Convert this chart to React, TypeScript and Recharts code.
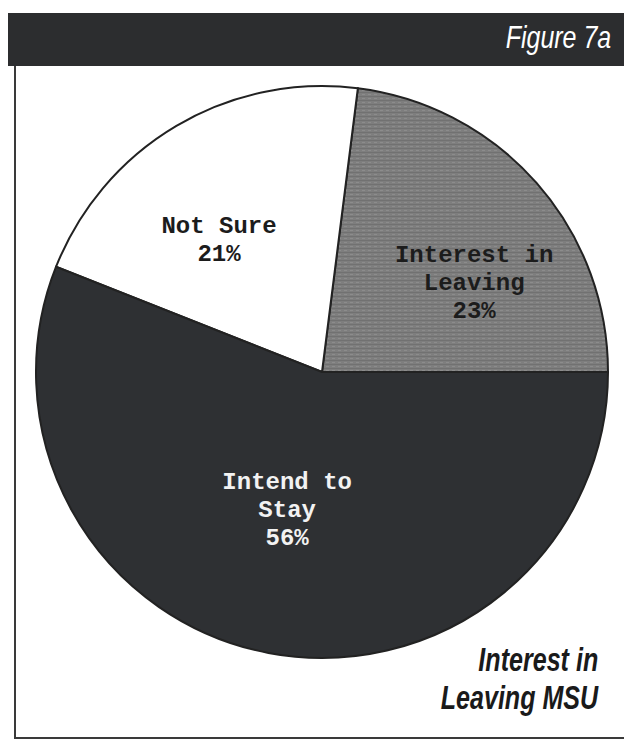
import { PieChart, Pie, Cell } from 'recharts';

const sliceNames = ['Interest in Leaving', 'Not Sure', 'Intend to Stay'];
const sliceValues = [23, 21, 56];
const labelLines = [['Interest in', 'Leaving'], ['Not Sure'], ['Intend to', 'Stay']];

const fills = ['url(#grain)', '#ffffff', '#2e3033'];
const textColors = ['#1c1c1c', '#1c1c1c', '#f2f2f2'];
// radius fraction and angle shift for each label
const labelPlace = [
  [0.615, -11.3],
  [0.585, 7.4],
  [0.5, -3.3],
];

const data = sliceNames.map((name, i) => ({ name, value: sliceValues[i] }));

const RAD = Math.PI / 180;

function renderLabel(props: any) {
  const { cx, cy, midAngle, outerRadius, index } = props;
  const [f, shift] = labelPlace[index];
  const a = (midAngle + shift) * RAD;
  const x = cx + outerRadius * f * Math.cos(a);
  const y = cy - outerRadius * f * Math.sin(a);
  const lines = [...labelLines[index], `${sliceValues[index]}%`];
  const lh = 28;
  const top = y - ((lines.length - 1) * lh) / 2;
  return (
    <text
      key={`lbl-${index}`}
      textAnchor="middle"
      fontFamily="'Liberation Mono', 'DejaVu Sans Mono', monospace"
      fontWeight="bold"
      fontSize={24}
      fill={textColors[index]}
    >
      {lines.map((t, j) => (
        <tspan key={j} x={x} y={top + j * lh} dominantBaseline="central">
          {t}
        </tspan>
      ))}
    </text>
  );
}

export default function App() {
  const sans = "'Liberation Sans', Arial, sans-serif";
  return (
    <div
      style={{
        position: 'absolute',
        left: 0,
        top: 0,
        width: 624,
        height: 741,
        background: '#ffffff',
        overflow: 'hidden',
      }}
    >
      <div
        style={{
          position: 'absolute',
          left: 8,
          top: 13,
          width: 616,
          height: 53,
          background: '#2c2d2f',
        }}
      />
      <div
        style={{
          position: 'absolute',
          right: 13,
          top: 19,
          color: '#ffffff',
          fontFamily: sans,
          fontStyle: 'italic',
          fontSize: 32,
          transform: 'scaleX(0.78)',
          transformOrigin: 'right center',
          whiteSpace: 'nowrap',
        }}
      >
        Figure 7a
      </div>
      <div style={{ position: 'absolute', left: 14, top: 66, width: 2, height: 673, background: '#3a3a3a' }} />
      <div style={{ position: 'absolute', left: 14, top: 737, width: 610, height: 2, background: '#3a3a3a' }} />

      <div style={{ position: 'absolute', left: 0, top: 0 }}>
        <PieChart width={624} height={741} margin={{ top: 0, right: 0, bottom: 0, left: 0 }}>
          <defs>
            <pattern id="grain" width="6" height="4" patternUnits="userSpaceOnUse">
              <rect width="6" height="4" fill="#7e7e7e" />
              <rect width="6" height="1" fill="#717171" />
              <rect x="2" y="2" width="3" height="1" fill="#8c8c8c" />
            </pattern>
          </defs>
          <Pie
            data={data}
            dataKey="value"
            nameKey="name"
            cx={322}
            cy={372}
            outerRadius={286}
            startAngle={0}
            endAngle={360}
            stroke="#222222"
            strokeWidth={2}
            labelLine={false}
            label={renderLabel}
            isAnimationActive={false}
          >
            {data.map((d, i) => (
              <Cell key={d.name} fill={fills[i]} />
            ))}
          </Pie>
        </PieChart>
      </div>

      <div
        style={{
          position: 'absolute',
          right: 26,
          top: 641,
          textAlign: 'right',
          fontFamily: sans,
          fontStyle: 'italic',
          fontWeight: 'bold',
          fontSize: 33,
          lineHeight: '38px',
          color: '#1a1a1a',
          transform: 'scaleX(0.76)',
          transformOrigin: 'right top',
          whiteSpace: 'nowrap',
        }}
      >
        Interest in
        <br />
        Leaving MSU
      </div>
    </div>
  );
}
